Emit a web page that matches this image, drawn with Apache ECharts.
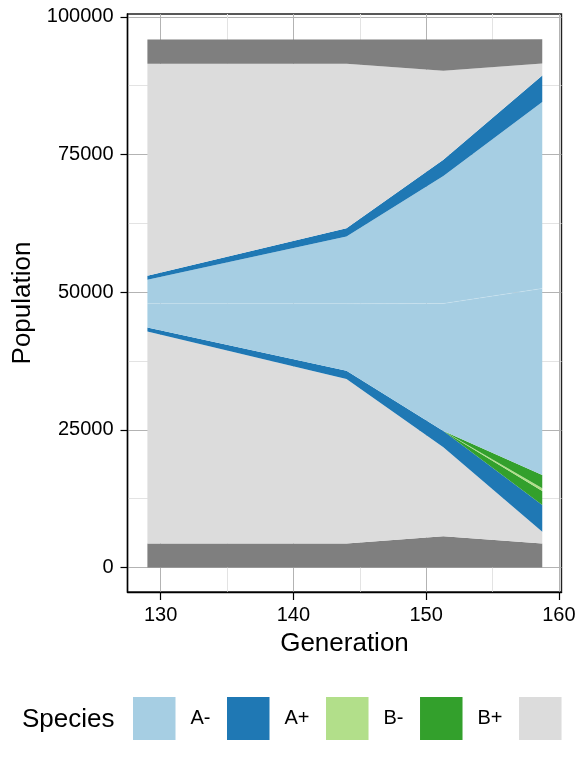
<!DOCTYPE html>
<html>
  <head>
    <meta charset="utf-8" />
    <title>Muller plot</title>
    <script src="https://cdn.jsdelivr.net/npm/echarts@6/dist/echarts.min.js"></script>
    <style>
      body { margin: 0; background: #fff; }
    </style>
  </head>

  <body>
    <div id="main" style="width: 576px; height: 768px"></div>
    <script type="text/javascript">
      // generations sampled
      const generations = [129, 144, 151.3, 158.75];

      // layer thickness (population), stacked bottom -> top
      const padLower = [4360, 4360, 5680, 4360];
      const ancestorLower = [38500, 29850, 16150, 2150];
      const aPlusLower = [700, 1500, 2950, 4820];
      const bPlusLower = [0, 0, 0, 2570];
      const bMinus = [0, 0, 0, 500];
      const bPlusUpper = [0, 0, 0, 2390];
      const aMinusLower = [4350, 12200, 23150, 33870];
      const aMinusUpper = [4350, 12200, 23150, 33870];
      const aPlusUpper = [700, 1500, 2950, 4820];
      const ancestorUpper = [38500, 29850, 16150, 2150];
      const padUpper = [4400, 4400, 5700, 4400];

      const xTicks = [130, 140, 150, 160];
      const xMinor = [135, 145, 155];
      const yTicks = [0, 25000, 50000, 75000, 100000];
      const yMinor = [12500, 37500, 62500, 87500];

      const legendNames = ["A-", "A+", "B-", "B+", "Ancestral"];
      const colors = {
        "A-": "#a6cee3",
        "A+": "#1f78b4",
        "B-": "#b2df8a",
        "B+": "#33a02c",
        Ancestral: "#dcdcdc",
        Padding: "#7f7f7f",
      };

      const layers = [
        ["Padding", padLower],
        ["Ancestral", ancestorLower],
        ["A+", aPlusLower],
        ["B+", bPlusLower],
        ["B-", bMinus],
        ["B+", bPlusUpper],
        ["A-", aMinusLower, true],
        ["A-", aMinusUpper],
        ["A+", aPlusUpper],
        ["Ancestral", ancestorUpper],
        ["Padding", padUpper],
      ];

      const font = "Liberation Sans, Arial, sans-serif";

      var myChart = echarts.init(document.getElementById("main"));

      // value first so the stack runs on population, not on generation
      const series = layers.map(function (l) {
        const c = colors[l[0]];
        return {
          type: "line",
          name: l[0],
          stack: "pop",
          symbol: "none",
          silent: true,
          color: c,
          encode: { x: 1, y: 0 },
          data: generations.map(function (g, i) {
            return [l[1][i], g];
          }),
          lineStyle: l[2]
            ? { width: 0.6, color: "rgba(255,255,255,0.28)" }
            : { width: 0 },
          areaStyle: { color: c, opacity: 1 },
          emphasis: { disabled: true },
        };
      });

      const gridLine = function (col) {
        return { show: true, lineStyle: { color: col, width: 1 } };
      };

      option = {
        animation: false,
        textStyle: { fontFamily: font },
        title: {
          text: "Species",
          left: 22,
          top: 707,
          padding: 0,
          textStyle: {
            fontFamily: font,
            fontSize: 26,
            fontWeight: "normal",
            color: "#000",
            lineHeight: 26,
          },
        },
        legend: {
          data: legendNames.map(function (n) {
            return { name: n, itemStyle: { color: colors[n] } };
          }),
          formatter: function (n) {
            return n === "Ancestral" ? "" : n;
          },
          icon: "rect",
          orient: "horizontal",
          left: 133,
          top: 697,
          width: 1000,
          padding: 0,
          itemWidth: 42.5,
          itemHeight: 43,
          itemGap: 16.5,
          selectedMode: false,
          textStyle: {
            fontFamily: font,
            fontSize: 20,
            color: "#000",
            padding: [0, 0, 0, 10],
          },
        },
        grid: {
          left: 127.5,
          right: 14.5,
          top: 14,
          bottom: 176,
          show: true,
          borderColor: "#222",
          borderWidth: 1.4,
          containLabel: false,
          outerBoundsMode: "none",
        },
        xAxis: [
          {
            type: "value",
            min: 127.5,
            max: 160.2,
            name: "Generation",
            nameLocation: "middle",
            nameGap: 39,
            nameTextStyle: { fontFamily: font, fontSize: 26, color: "#000" },
            axisLine: { show: true, onZero: false, lineStyle: { color: "#000", width: 1.4 } },
            axisTick: { show: true, length: 8, customValues: xTicks, lineStyle: { color: "#000", width: 1.2 } },
            axisLabel: {
              customValues: xTicks,
              margin: 13.5,
              fontSize: 20,
              color: "#000",
              fontFamily: font,
              formatter: function (v) { return String(v); },
            },
            splitLine: gridLine("#b3b3b3"),
          },
          {
            type: "value",
            min: 127.5,
            max: 160.2,
            position: "bottom",
            axisLine: { show: false, onZero: false },
            axisTick: { show: false, customValues: xMinor },
            axisLabel: { show: false },
            splitLine: gridLine("#e3e3e3"),
          },
        ],
        yAxis: [
          {
            type: "value",
            min: -4450,
            max: 100500,
            name: "Population",
            nameLocation: "middle",
            nameGap: 90.7,
            nameTextStyle: { fontFamily: font, fontSize: 26, color: "#000" },
            axisLine: { show: true, onZero: false, lineStyle: { color: "#000", width: 1.4 } },
            axisTick: { show: true, length: 7, customValues: yTicks, lineStyle: { color: "#000", width: 1.2 } },
            axisLabel: {
              customValues: yTicks,
              margin: 14,
              fontSize: 20,
              color: "#000",
              fontFamily: font,
              formatter: function (v) { return String(v); },
            },
            splitLine: gridLine("#b3b3b3"),
          },
          {
            type: "value",
            min: -4450,
            max: 100500,
            position: "left",
            axisLine: { show: false, onZero: false },
            axisTick: { show: false, customValues: yMinor },
            axisLabel: { show: false },
            splitLine: gridLine("#e3e3e3"),
          },
        ],
        series: series,
      };

      myChart.setOption(option);
    </script>
  </body>
</html>
